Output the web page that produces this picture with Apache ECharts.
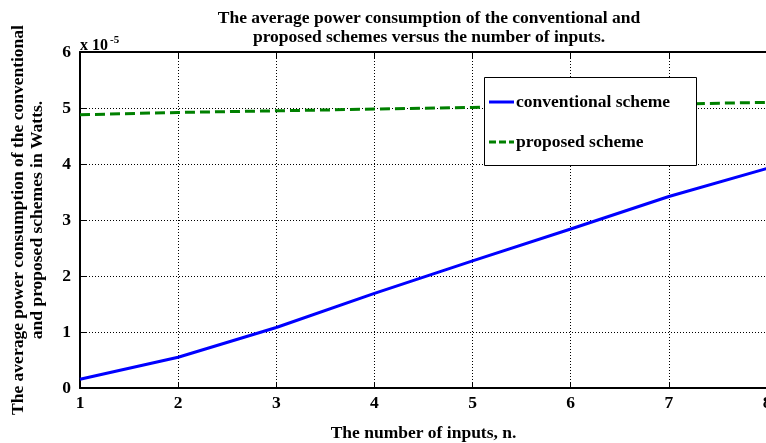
<!DOCTYPE html>
<html>
<head>
<meta charset="utf-8">
<script src="https://cdn.jsdelivr.net/npm/echarts@6/dist/echarts.min.js"></script>
<style>
  html, body { margin: 0; padding: 0; background: #fff; }
  #chart { width: 766px; height: 443px; }
</style>
</head>
<body>
<div id="chart"></div>
<script>
// Number of inputs n
const inputs = [1, 2, 3, 4, 5, 6, 7, 8];
// Average power (units of 1e-5 W)
const conventional = [0.155, 0.55, 1.08, 1.69, 2.27, 2.84, 3.42, 3.92];
const proposed = [4.88, 4.92, 4.95, 4.98, 5.01, 5.04, 5.07, 5.10];
const yTicks = [0, 1, 2, 3, 4, 5, 6];

const FONT = '"Liberation Serif", "DejaVu Serif", serif';
const FS = 17.5;

const chart = echarts.init(document.getElementById('chart'), null, { renderer: 'canvas' });

const gridLeft = 80, gridTop = 52, gridW = 687, gridH = 336;

const dotted = { show: true, lineStyle: { color: '#000', width: 1, type: [1, 2] } };

chart.setOption({
  animation: false,
  backgroundColor: '#fff',
  title: {
    text: 'The average power consumption of the conventional and\nproposed schemes versus the number of inputs.',
    left: 424,
    textAlign: 'center',
    top: 4,
    textStyle: { fontFamily: FONT, fontWeight: 'bold', fontSize: FS, lineHeight: 19, color: '#000' }
  },
  grid: {
    left: gridLeft, top: gridTop, width: gridW, height: gridH,
    containLabel: false, outerBoundsMode: 'none'
  },
  xAxis: [{
    type: 'value', min: 1, max: 8, interval: 1,
    position: 'bottom',
    name: 'The number of inputs, n.',
    nameLocation: 'middle', nameGap: 36,
    nameTextStyle: { fontFamily: FONT, fontWeight: 'bold', fontSize: FS, color: '#000' },
    axisLine: { show: true, lineStyle: { color: '#000', width: 2 } },
    axisTick: { show: true, inside: true, length: 6, lineStyle: { color: '#000', width: 1 } },
    axisLabel: { fontFamily: FONT, fontWeight: 'bold', fontSize: FS, color: '#000', margin: 6, hideOverlap: false },
    splitLine: dotted
  }, {
    type: 'value', min: 1, max: 8, interval: 1,
    position: 'top',
    axisLine: { show: true, onZero: false, lineStyle: { color: '#000', width: 2 } },
    axisTick: { show: true, inside: true, length: 6, lineStyle: { color: '#000', width: 1 } },
    axisLabel: { show: false },
    splitLine: { show: false }
  }],
  yAxis: [{
    type: 'value', min: 0, max: 6, interval: 1,
    position: 'left',
    name: 'The average power consumption of the conventional\nand proposed schemes in Watts.',
    nameLocation: 'middle', nameGap: 33, nameRotate: 90,
    nameTextStyle: { fontFamily: FONT, fontWeight: 'bold', fontSize: FS, lineHeight: 19, color: '#000' },
    axisLine: { show: true, lineStyle: { color: '#000', width: 2 } },
    axisTick: { show: true, inside: true, length: 6, lineStyle: { color: '#000', width: 1 } },
    axisLabel: {
      fontFamily: FONT, fontWeight: 'bold', fontSize: FS, color: '#000', margin: 9,
      formatter: v => (yTicks.includes(v) ? String(v) : '')
    },
    splitLine: dotted
  }],
  legend: { show: false },
  series: [{
    name: 'conventional scheme',
    type: 'line',
    xAxisIndex: 0,
    data: inputs.map((n, i) => [n, conventional[i]]),
    showSymbol: false,
    lineStyle: { color: '#0000ff', width: 3 },
    itemStyle: { color: '#0000ff' },
    z: 5
  }, {
    name: 'proposed scheme',
    type: 'line',
    xAxisIndex: 0,
    data: inputs.map((n, i) => [n, proposed[i]]),
    showSymbol: false,
    lineStyle: { color: '#008000', width: 3, type: [10, 5] },
    itemStyle: { color: '#008000' },
    z: 5
  }],
  graphic: [
    {
      type: 'text', left: 80, top: 35, z: 100,
      style: {
        text: '{b|x 10}{s|-5}',
        rich: {
          b: { fontFamily: FONT, fontWeight: 'bold', fontSize: 16, fill: '#000', verticalAlign: 'bottom' },
          s: { fontFamily: FONT, fontWeight: 'bold', fontSize: 11, fill: '#000', verticalAlign: 'top', padding: [0, 0, 8, 2] }
        }
      }
    },
    { type: 'rect', z: 100, left: 484, top: 77, shape: { x: 0, y: 0, width: 212, height: 88 },
      style: { fill: '#fff', stroke: '#000', lineWidth: 1 } },
    { type: 'line', z: 101, shape: { x1: 489, y1: 102, x2: 514, y2: 102 },
      style: { stroke: '#0000ff', lineWidth: 3 } },
    { type: 'text', z: 101, x: 516, y: 102,
      style: { text: 'conventional scheme', fontFamily: FONT, fontWeight: 'bold', fontSize: FS,
               fill: '#000', verticalAlign: 'middle' } },
    { type: 'line', z: 101, shape: { x1: 489, y1: 142, x2: 514, y2: 142 },
      style: { stroke: '#008000', lineWidth: 3, lineDash: [7, 3] } },
    { type: 'text', z: 101, x: 516, y: 142,
      style: { text: 'proposed scheme', fontFamily: FONT, fontWeight: 'bold', fontSize: FS,
               fill: '#000', verticalAlign: 'middle' } }
  ]
});
</script>
</body>
</html>
